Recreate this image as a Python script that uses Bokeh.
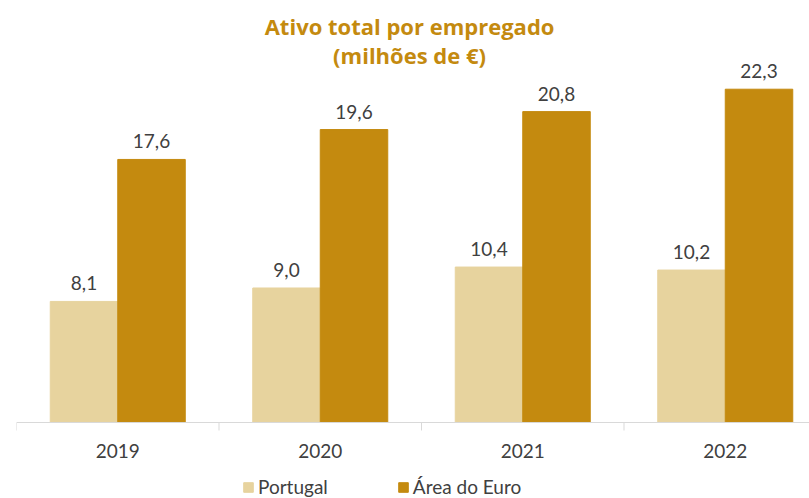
import math
from bokeh.plotting import figure
from bokeh.models import (ColumnDataSource, Range1d, LabelSet, Label, Span,
                          Legend, LegendItem)
from bokeh.core.properties import value
from bokeh.embed import file_html
from bokeh.resources import INLINE

years = ["2019", "2020", "2021", "2022"]
portugal = [8.1, 9.0, 10.4, 10.2]
euro = [17.6, 19.6, 20.8, 22.3]

def fmt(v):
    return f"{v:.1f}".replace(".", ",")

LIGHT = "#E7D39E"
DARK = "#C48A0F"
TEXT = "#404040"
AXIS = "#D9D9D9"
FONT = "Lato"
FS = "19px"

n = len(years)
centers = [i + 0.5 for i in range(n)]
bounds = list(range(n))
src_pt = ColumnDataSource(dict(x=[c - 1/6 for c in centers], top=portugal,
                               lab=[fmt(v) for v in portugal]))
src_eu = ColumnDataSource(dict(x=[c + 1/6 for c in centers], top=euro,
                               lab=[fmt(v) for v in euro]))
src_cat = ColumnDataSource(dict(x=centers, y=[0] * n, lab=years))
src_tick = ColumnDataSource(dict(x=bounds, y=[0] * n))

x_end = 3.916
p = figure(width=809, height=498, output_backend="svg", toolbar_location=None,
           x_range=Range1d(0, x_end), y_range=Range1d(-5.085, 28.235),
           min_border_left=16, min_border_right=0, min_border_top=0,
           min_border_bottom=0)
p.outline_line_color = None
p.xgrid.visible = False
p.ygrid.visible = False
p.xaxis.visible = False
p.yaxis.visible = False

r1 = p.vbar(x="x", top="top", width=1/3, source=src_pt, fill_color=LIGHT,
            line_color=LIGHT)
r2 = p.vbar(x="x", top="top", width=1/3, source=src_eu, fill_color=DARK,
            line_color=DARK)

for s in (src_pt, src_eu):
    p.add_layout(LabelSet(x="x", y="top", text="lab", source=s, text_align="center",
                          text_baseline="bottom", y_offset=11, text_font=value(FONT),
                          text_font_size=value(FS), text_color=value(TEXT)))

# category axis: baseline, boundary ticks and year labels
p.add_layout(Span(location=0, dimension="width", line_color=AXIS, line_width=1))
p.ray(x="x", y="y", length=8, length_units="screen", angle=-math.pi / 2,
      source=src_tick, line_color=AXIS, line_width=1)
p.add_layout(LabelSet(x="x", y="y", text="lab", source=src_cat, text_align="center",
                      text_baseline="middle", y_offset=-29, text_font=value(FONT),
                      text_font_size=value(FS), text_color=value(TEXT)))

tx = x_end / 2 - 0.017
for txt, ty in (("Ativo total por empregado", 26.5), ("(milhões de €)", 24.6)):
    p.add_layout(Label(x=tx, y=ty, text=txt, text_align="center",
                       text_baseline="middle", text_font="Open Sans",
                       text_font_style="bold", text_font_size="22px", text_color=DARK))

legend = Legend(items=[LegendItem(label="Portugal", renderers=[r1]),
                       LegendItem(label="Área do Euro", renderers=[r2])],
                orientation="horizontal", location=(226, 0),
                label_text_font=FONT, label_text_font_size=FS,
                label_text_color=TEXT, glyph_width=12, glyph_height=12,
                label_standoff=4, spacing=69, padding=0, margin=0,
                border_line_color=None, background_fill_alpha=0)
p.add_layout(legend)

open("out.html", "w").write(file_html(p, INLINE))
